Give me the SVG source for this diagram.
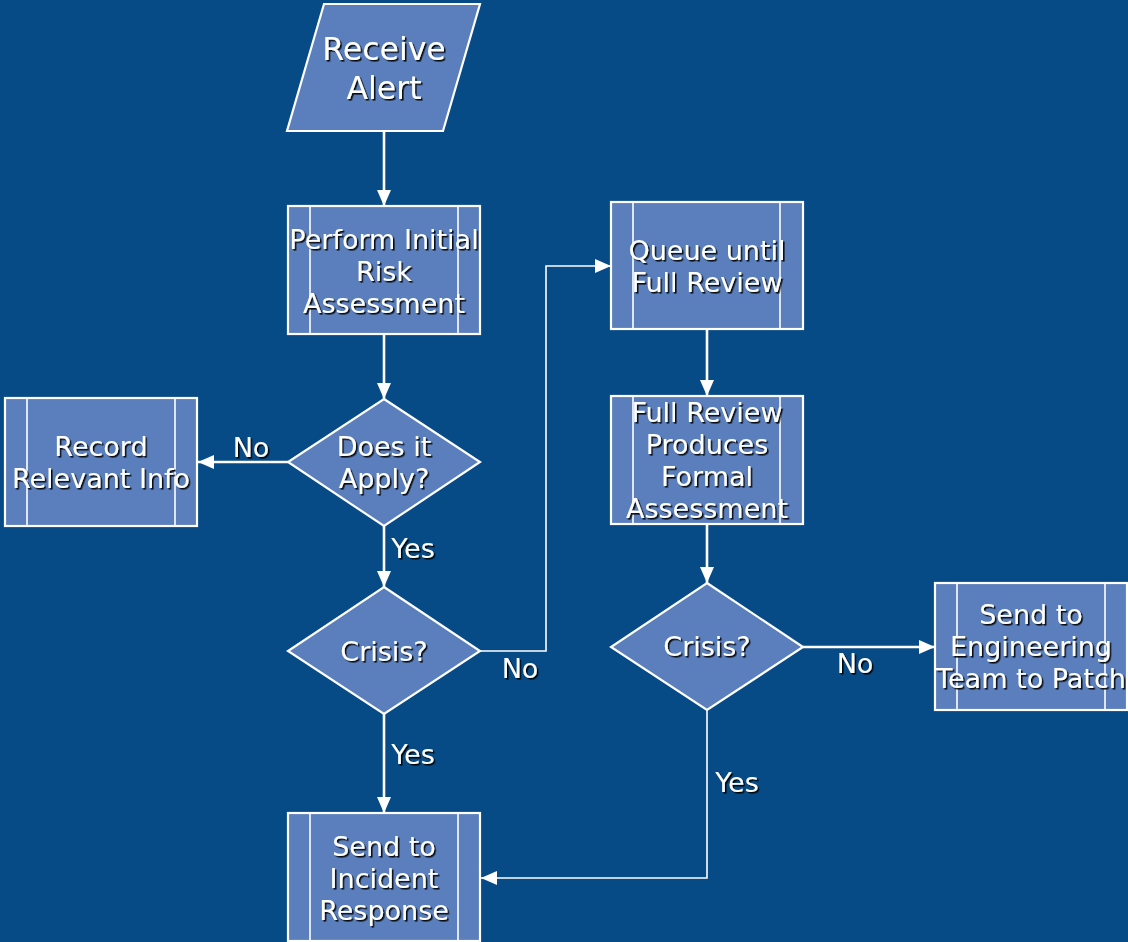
<svg xmlns="http://www.w3.org/2000/svg" width="1128" height="942" viewBox="0 0 1128 942">
<style>
.bg{fill:#074b86}
.shape{fill:#5a7fbc;stroke:#ffffff;stroke-width:2.2}
.inner{stroke:#ffffff;stroke-width:1.6;fill:none}
.t{font-family:"DejaVu Sans",Verdana,sans-serif;font-size:27px;fill:#ffffff;text-anchor:middle;filter:url(#sh)}
.big{font-size:31.5px}
.conn{stroke:#ffffff;stroke-width:2.6;fill:none}
.thin{stroke-width:1.6}
</style>
<defs>
<filter id="sh" x="-10%" y="-20%" width="130%" height="150%">
<feDropShadow dx="1.6" dy="1.6" stdDeviation="0.4" flood-color="#000000" flood-opacity="0.9"/>
</filter>
<marker id="ar" markerWidth="16" markerHeight="14" refX="16" refY="7" orient="auto" markerUnits="userSpaceOnUse">
<path d="M0,0 L16,7 L0,14 Z" fill="#ffffff"/>
</marker>
</defs>
<rect class="bg" x="0" y="0" width="1128" height="942"/>

<g id="connectors">
<path class="conn" d="M384,131 L384,206" marker-end="url(#ar)"/>
<path class="conn" d="M384,334 L384,399" marker-end="url(#ar)"/>
<path class="conn" d="M288,462 L198,462" marker-end="url(#ar)"/>
<path class="conn" d="M384,526 L384,587" marker-end="url(#ar)"/>
<path class="conn thin" d="M480,651 L546,651 L546,266 L611,266" marker-end="url(#ar)"/>
<path class="conn" d="M707,329 L707,396" marker-end="url(#ar)"/>
<path class="conn" d="M707,524 L707,583" marker-end="url(#ar)"/>
<path class="conn" d="M803,647 L935,647" marker-end="url(#ar)"/>
<path class="conn" d="M384,714 L384,813" marker-end="url(#ar)"/>
<path class="conn thin" d="M707,710 L707,878 L481,878" marker-end="url(#ar)"/>
<text class="t" x="251" y="457">No</text>
<text class="t" x="413" y="558">Yes</text>
<text class="t" x="520" y="678">No</text>
<text class="t" x="855" y="673">No</text>
<text class="t" x="413" y="764">Yes</text>
<text class="t" x="737" y="792">Yes</text>
</g>

<g id="receive-alert">
<polygon class="shape" points="324,4 480,4 443,131 287,131"/>
<text class="t big" x="384" y="60">Receive</text>
<text class="t big" x="384" y="99">Alert</text>
</g>

<g id="perform-initial">
<rect class="shape" x="288" y="206" width="192" height="128"/>
<line class="inner" x1="310" y1="206" x2="310" y2="334"/>
<line class="inner" x1="458" y1="206" x2="458" y2="334"/>
<text class="t" x="384" y="249">Perform Initial</text>
<text class="t" x="384" y="281">Risk</text>
<text class="t" x="384" y="313">Assessment</text>
</g>

<g id="record-info">
<rect class="shape" x="5" y="398" width="192" height="128"/>
<line class="inner" x1="27" y1="398" x2="27" y2="526"/>
<line class="inner" x1="175" y1="398" x2="175" y2="526"/>
<text class="t" x="101" y="456">Record</text>
<text class="t" x="101" y="488">Relevant Info</text>
</g>

<g id="does-it-apply">
<polygon class="shape" points="384,399 480,462 384,526 288,462"/>
<text class="t" x="384" y="456">Does it</text>
<text class="t" x="384" y="488">Apply?</text>
</g>

<g id="crisis-1">
<polygon class="shape" points="384,587 480,651 384,714 288,651"/>
<text class="t" x="384" y="661">Crisis?</text>
</g>

<g id="queue-review">
<rect class="shape" x="611" y="202" width="192" height="127"/>
<line class="inner" x1="633" y1="202" x2="633" y2="329"/>
<line class="inner" x1="780" y1="202" x2="780" y2="329"/>
<text class="t" x="707" y="260">Queue until</text>
<text class="t" x="707" y="292">Full Review</text>
</g>

<g id="full-review">
<rect class="shape" x="611" y="396" width="192" height="128"/>
<line class="inner" x1="633" y1="396" x2="633" y2="524"/>
<line class="inner" x1="780" y1="396" x2="780" y2="524"/>
<text class="t" x="707" y="422">Full Review</text>
<text class="t" x="707" y="454">Produces</text>
<text class="t" x="707" y="486">Formal</text>
<text class="t" x="707" y="518">Assessment</text>
</g>

<g id="crisis-2">
<polygon class="shape" points="707,583 803,647 707,710 611,647"/>
<text class="t" x="707" y="656">Crisis?</text>
</g>

<g id="send-engineering">
<rect class="shape" x="935" y="583" width="192" height="127"/>
<line class="inner" x1="957" y1="583" x2="957" y2="710"/>
<line class="inner" x1="1105" y1="583" x2="1105" y2="710"/>
<text class="t" x="1031" y="624">Send to</text>
<text class="t" x="1031" y="656">Engineering</text>
<text class="t" x="1031" y="688">Team to Patch</text>
</g>

<g id="send-incident">
<rect class="shape" x="288" y="813" width="192" height="128"/>
<line class="inner" x1="310" y1="813" x2="310" y2="941"/>
<line class="inner" x1="458" y1="813" x2="458" y2="941"/>
<text class="t" x="384" y="856">Send to</text>
<text class="t" x="384" y="888">Incident</text>
<text class="t" x="384" y="920">Response</text>
</g>
</svg>
